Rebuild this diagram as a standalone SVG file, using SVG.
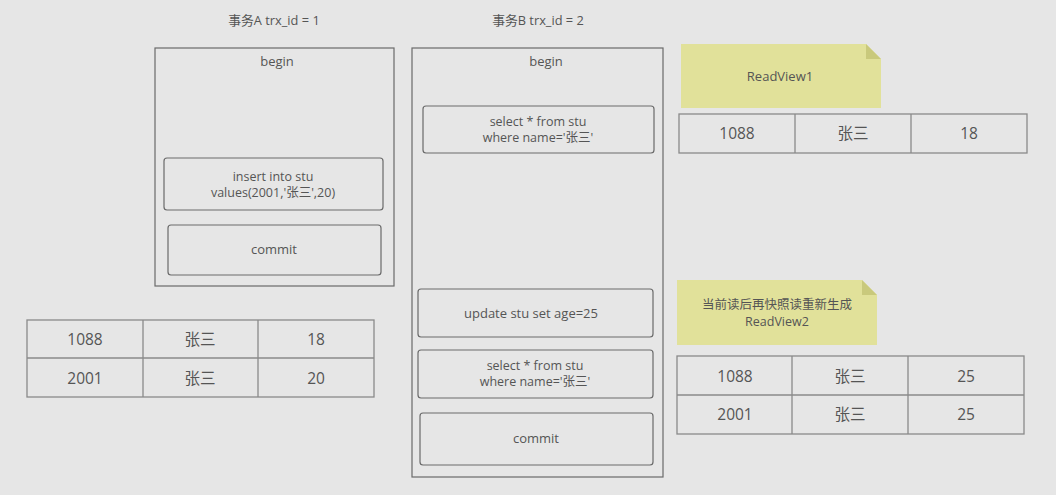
<svg xmlns="http://www.w3.org/2000/svg" width="1056" height="495" viewBox="0 0 1056 495">
<style>
text{font-family:"Open Sans","Noto Sans","Noto Sans CJK SC",sans-serif;fill:#555;text-anchor:middle;dominant-baseline:central}
.t{font-size:12.8px}
.s{font-size:13px}
.m{font-size:12.5px}
.c{font-size:15.5px}
.frame{fill:none;stroke:#6a6a6a;stroke-width:1.2}
.box{fill:none;stroke:#6a6a6a;stroke-width:1.2}
.cell{fill:none;stroke:#8a8a8a;stroke-width:1.3}
.note{fill:#e1e19a}
.fold{fill:#c9c97c}
</style>
<rect x="0" y="0" width="1056" height="495" fill="#e6e6e6"/>
<g id="txA">
<text class="t" x="274" y="20">事务A trx_id = 1</text>
<rect class="frame" x="155" y="48" width="239" height="238"/>
<text class="s" x="277" y="61">begin</text>
</g>
<g id="insertA">
<rect class="box" x="164" y="158" width="219" height="52" rx="3"/>
<text class="m" x="273" y="176">insert into stu</text>
<text class="m" x="273" y="192">values(2001,'张三',20)</text>
</g>
<g id="commitA">
<rect class="box" x="168" y="225" width="213" height="50" rx="3"/>
<text class="s" x="274" y="249">commit</text>
</g>
<g id="txB">
<text class="t" x="538" y="20">事务B trx_id = 2</text>
<rect class="frame" x="412" y="48" width="251" height="429"/>
<text class="s" x="546" y="61">begin</text>
</g>
<g id="select1">
<rect class="box" x="423" y="106" width="231" height="47" rx="3"/>
<text class="m" x="538" y="121">select * from stu</text>
<text class="m" x="538" y="137">where name='张三'</text>
</g>
<g id="update">
<rect class="box" x="418" y="289" width="235" height="48" rx="3"/>
<text class="s" x="531" y="313">update stu set age=25</text>
</g>
<g id="select2">
<rect class="box" x="418" y="350" width="235" height="48" rx="3"/>
<text class="m" x="535" y="365">select * from stu</text>
<text class="m" x="535" y="381">where name='张三'</text>
</g>
<g id="commitB">
<rect class="box" x="420" y="413" width="233" height="52" rx="3"/>
<text class="s" x="536" y="438">commit</text>
</g>
<g id="note1">
<path class="note" d="M681 44 H866 L881 59 V108 H681 Z"/>
<path class="fold" d="M866 44 L881 59 H866 Z"/>
<text class="s" x="780" y="76">ReadView1</text>
</g>
<g id="table1">
<rect class="cell" x="679" y="114" width="348" height="39"/>
<line class="cell" x1="795" y1="114" x2="795" y2="153"/>
<line class="cell" x1="911" y1="114" x2="911" y2="153"/>
<text class="c" x="737" y="133">1088</text>
<text class="c" x="853" y="133">张三</text>
<text class="c" x="969" y="133">18</text>
</g>
<g id="note2">
<path class="note" d="M677 280 H862 L877 295 V345 H677 Z"/>
<path class="fold" d="M862 280 L877 295 H862 Z"/>
<text class="m" x="777" y="304">当前读后再快照读重新生成</text>
<text class="m" x="777" y="321">ReadView2</text>
</g>
<g id="table2">
<rect class="cell" x="677" y="356" width="347" height="78"/>
<line class="cell" x1="677" y1="395" x2="1024" y2="395"/>
<line class="cell" x1="792" y1="356" x2="792" y2="434"/>
<line class="cell" x1="908" y1="356" x2="908" y2="434"/>
<text class="c" x="735" y="376">1088</text>
<text class="c" x="850" y="376">张三</text>
<text class="c" x="966" y="376">25</text>
<text class="c" x="735" y="414">2001</text>
<text class="c" x="850" y="414">张三</text>
<text class="c" x="966" y="414">25</text>
</g>
<g id="tableLeft">
<rect class="cell" x="27" y="320" width="347" height="77"/>
<line class="cell" x1="27" y1="358" x2="374" y2="358"/>
<line class="cell" x1="143" y1="320" x2="143" y2="397"/>
<line class="cell" x1="258" y1="320" x2="258" y2="397"/>
<text class="c" x="85" y="339">1088</text>
<text class="c" x="200" y="339">张三</text>
<text class="c" x="316" y="339">18</text>
<text class="c" x="85" y="378">2001</text>
<text class="c" x="200" y="378">张三</text>
<text class="c" x="316" y="378">20</text>
</g>
<g id="connectors"></g>
</svg>
